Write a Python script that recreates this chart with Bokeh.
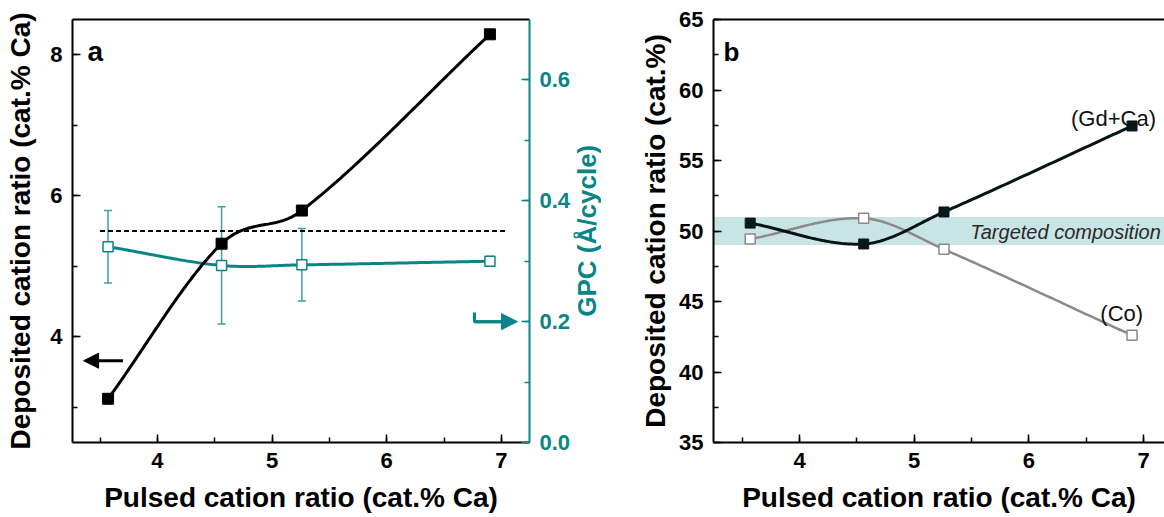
import math
import numpy as np
from bokeh.plotting import figure
from bokeh.layouts import row
from bokeh.models import (Range1d, LinearAxis, SingleIntervalTicker, PrintfTickFormatter,
                          ColumnDataSource, Whisker, TeeHead, Arrow, NormalHead, Label,
                          BoxAnnotation, FixedTicker)
from bokeh.embed import file_html
from bokeh.resources import INLINE

# ---------------- data ----------------
pulsed_ca = [3.57, 4.56, 5.26, 6.90]          # Pulsed cation ratio (cat.% Ca)
deposited_ca = [3.12, 5.32, 5.79, 8.29]       # Deposited cation ratio (cat.% Ca)
gpc = [0.324, 0.293, 0.294, 0.300]            # GPC (Å/cycle)
gpc_err = [0.060, 0.097, 0.060, 0.008]
target_ca = 5.5
gd_ca = [50.56, 49.08, 51.35, 57.45]          # (Gd+Ca) cat.%
co = [49.43, 50.90, 48.70, 42.60]             # (Co) cat.%
target_low, target_high = 49.0, 51.0

FONT = "Liberation Sans"
TEAL = "#0a8585"
TEAL_LIGHT = "#3d9f9f"
BAND = "#c9e4e4"


def smooth_curve(x, y, n=60):
    """Piecewise cubic Hermite curve through the points (finite-difference slopes)."""
    x = np.asarray(x, float)
    y = np.asarray(y, float)
    k = len(x)
    m = np.zeros(k)
    m[0] = (y[1] - y[0]) / (x[1] - x[0])
    m[-1] = (y[-1] - y[-2]) / (x[-1] - x[-2])
    for i in range(1, k - 1):
        m[i] = (y[i + 1] - y[i - 1]) / (x[i + 1] - x[i - 1])
    xs, ys = [], []
    t = np.linspace(0, 1, n)
    h00 = 2 * t ** 3 - 3 * t ** 2 + 1
    h10 = t ** 3 - 2 * t ** 2 + t
    h01 = -2 * t ** 3 + 3 * t ** 2
    h11 = t ** 3 - t ** 2
    for i in range(k - 1):
        h = x[i + 1] - x[i]
        xs.extend((x[i] + t * h).tolist())
        ys.extend((h00 * y[i] + h10 * h * m[i] + h01 * y[i + 1] + h11 * h * m[i + 1]).tolist())
    return xs, ys


def style_axis(ax, color="black"):
    ax.axis_line_color = color
    ax.axis_line_width = 2
    ax.major_tick_line_color = color
    ax.minor_tick_line_color = color
    ax.major_tick_in = 8
    ax.major_tick_out = 0
    ax.minor_tick_in = 5
    ax.minor_tick_out = 0
    ax.major_tick_line_width = 1.5
    ax.minor_tick_line_width = 1.5
    ax.major_label_text_font = FONT
    ax.major_label_text_font_size = "22px"
    ax.major_label_text_font_style = "bold"
    ax.major_label_text_color = color
    ax.axis_label_text_font = FONT
    ax.axis_label_text_font_size = "28px"
    ax.axis_label_text_font_style = "bold"
    ax.axis_label_text_color = color
    ax.major_label_standoff = 10
    ax.axis_label_standoff = 11


def top_line(p):
    ax = LinearAxis(ticker=FixedTicker(ticks=[]), major_tick_in=0, major_tick_out=0,
                    minor_tick_in=0, minor_tick_out=0, axis_line_width=2,
                    axis_line_color="black", major_label_standoff=0)
    p.add_layout(ax, "above")


def base_fig(**kw):
    p = figure(output_backend="svg", toolbar_location=None, **kw)
    p.xgrid.grid_line_color = None
    p.ygrid.grid_line_color = None
    p.outline_line_color = None
    p.background_fill_color = "white"
    p.border_fill_color = "white"
    return p


# ---------------- panel a ----------------
pa = base_fig(frame_width=457, frame_height=423, min_border_left=72, min_border_right=42,
              min_border_top=16, min_border_bottom=78,
              x_range=Range1d(3.26, 7.245), y_range=Range1d(2.5, 8.5))
pa.extra_y_ranges = {"gpc": Range1d(0, 0.7)}

pa.xaxis.ticker = SingleIntervalTicker(interval=1, num_minor_ticks=2)
pa.xaxis.axis_label = "Pulsed cation ratio (cat.% Ca)"
style_axis(pa.xaxis[0])
pa.yaxis.ticker = SingleIntervalTicker(interval=2, num_minor_ticks=2)
pa.yaxis.axis_label = "Deposited cation ratio (cat.% Ca)"
style_axis(pa.yaxis[0])

right = LinearAxis(y_range_name="gpc",
                   ticker=SingleIntervalTicker(interval=0.2, num_minor_ticks=2),
                   formatter=PrintfTickFormatter(format="%.1f"))
style_axis(right, TEAL)
pa.add_layout(right, "right")
top_line(pa)

# target dashed line
pa.segment(x0=[3.5], y0=[target_ca], x1=[7.05], y1=[target_ca], line_color="black",
           line_width=2, line_dash="5 3")

# GPC error bars, curve, markers
err_src = ColumnDataSource(dict(x=pulsed_ca,
                                upper=[g + e for g, e in zip(gpc, gpc_err)],
                                lower=[g - e for g, e in zip(gpc, gpc_err)]))
pa.add_layout(Whisker(source=err_src, base="x", upper="upper", lower="lower",
                      y_range_name="gpc", line_color=TEAL_LIGHT, line_width=1.5,
                      upper_head=TeeHead(size=8, line_color=TEAL_LIGHT, line_width=1.5),
                      lower_head=TeeHead(size=8, line_color=TEAL_LIGHT, line_width=1.5)))
gx, gy = smooth_curve(pulsed_ca, gpc)
pa.line(gx, gy, y_range_name="gpc", line_color=TEAL, line_width=3)
pa.scatter(pulsed_ca, gpc, y_range_name="gpc", marker="square", size=10,
           fill_color="white", line_color=TEAL, line_width=1.5)

# deposited curve
dx, dy = smooth_curve(pulsed_ca, deposited_ca)
pa.line(dx, dy, line_color="black", line_width=3)
pa.scatter(pulsed_ca, deposited_ca, marker="square", size=11, fill_color="black",
           line_color="black")

# arrows
pa.add_layout(Arrow(end=NormalHead(size=15, fill_color="black", line_color="black"),
                    x_start=3.70, y_start=3.66, x_end=3.357, y_end=3.66,
                    line_width=3, line_color="black"))
pa.line([6.765, 6.765, 7.0], [0.215, 0.2, 0.2], y_range_name="gpc",
        line_color=TEAL, line_width=3)
pa.add_layout(Arrow(end=NormalHead(size=16, fill_color=TEAL, line_color=TEAL),
                    x_start=6.765, y_start=0.2, x_end=7.14, y_end=0.2,
                    y_range_name="gpc", line_width=3, line_color=TEAL))

pa.add_layout(Label(x=3.39, y=8.04, text="a", text_font=FONT, text_font_size="28px",
                    text_font_style="bold", text_baseline="alphabetic", text_color="black"))

# ---------------- strip holding the right-axis title of panel a ----------------
pm = figure(output_backend="svg", toolbar_location=None, width=28, height=517,
            min_border=0, x_range=Range1d(0, 1), y_range=Range1d(0, 517),
            x_axis_location=None, y_axis_location=None)
pm.xgrid.grid_line_color = None
pm.ygrid.grid_line_color = None
pm.outline_line_color = None
pm.add_layout(Label(x=0.47, y=257, text="GPC (Å/cycle)", angle=math.pi / 2,
                    text_align="center", text_baseline="middle", text_font=FONT,
                    text_font_size="26px", text_font_style="bold", text_color=TEAL))

# ---------------- panel b ----------------
pb = base_fig(frame_width=451, frame_height=423, min_border_left=112, min_border_right=0,
              min_border_top=19, min_border_bottom=75,
              x_range=Range1d(3.25, 7.183), y_range=Range1d(35, 65))
pb.xaxis.ticker = SingleIntervalTicker(interval=1, num_minor_ticks=2)
pb.xaxis.axis_label = "Pulsed cation ratio (cat.% Ca)"
style_axis(pb.xaxis[0])
pb.yaxis.ticker = SingleIntervalTicker(interval=5, num_minor_ticks=2)
pb.yaxis.axis_label = "Deposited cation ratio (cat.%)"
style_axis(pb.yaxis[0])
pb.yaxis.axis_label_standoff = 5
top_line(pb)

pb.add_layout(BoxAnnotation(bottom=target_low, top=target_high, fill_color=BAND,
                            fill_alpha=1, line_color=None, level="underlay"))

cx, cy = smooth_curve(pulsed_ca, co)
pb.line(cx, cy, line_color="#8a8a8a", line_width=2.5)
pb.scatter(pulsed_ca, co, marker="square", size=10, fill_color="white",
           line_color="#8a8a8a", line_width=1.5)

gcx, gcy = smooth_curve(pulsed_ca, gd_ca)
pb.line(gcx, gcy, line_color="#061414", line_width=3)
pb.scatter(pulsed_ca, gd_ca, marker="square", size=10, fill_color="#061a1a",
           line_color="#061a1a")

pb.add_layout(Label(x=3.337, y=62.66, text="b", text_font=FONT, text_font_size="26px",
                    text_font_style="bold", text_baseline="alphabetic", text_color="black"))
pb.add_layout(Label(x=6.738, y=58.0, text="(Gd+Ca)", text_font=FONT, text_font_size="22px",
                    text_align="center", text_baseline="alphabetic", text_color="#111111"))
pb.add_layout(Label(x=6.81, y=44.18, text="(Co)", text_font=FONT, text_font_size="22px",
                    text_align="center", text_baseline="alphabetic", text_color="#111111"))
pb.add_layout(Label(x=5.49, y=49.95, text="Targeted composition", text_font=FONT,
                    text_font_size="20px", text_font_style="italic", text_baseline="middle",
                    text_color="#2a2a2a"))

layout = row(pa, pm, pb, spacing=0)
open("out.html", "w").write(file_html(layout, INLINE))
